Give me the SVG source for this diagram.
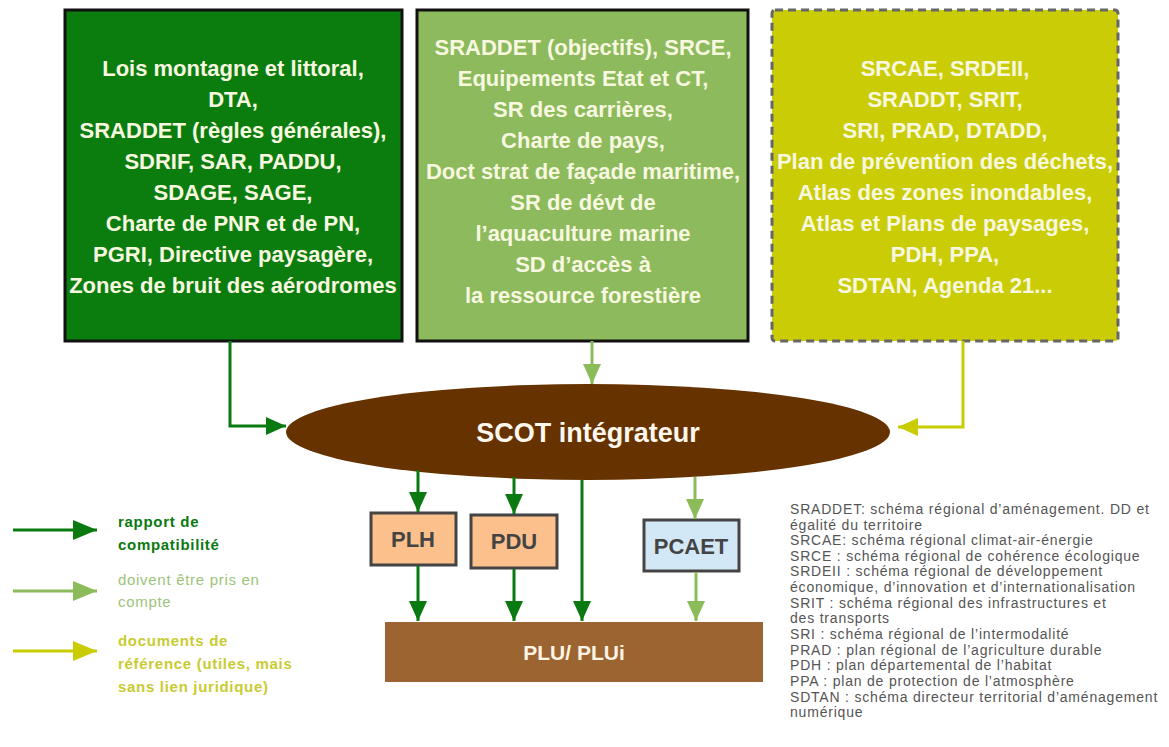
<svg xmlns="http://www.w3.org/2000/svg" width="1169" height="747" viewBox="0 0 1169 747">
<style>
.bt{font-family:"Liberation Sans",Arial,sans-serif;font-weight:bold;font-size:22px;fill:#f8f8e0;text-anchor:middle}
.sm{font-family:"Liberation Sans",Arial,sans-serif;font-weight:bold;font-size:22px;fill:#444;text-anchor:middle}
.gl{font-family:"Liberation Sans",Arial,sans-serif;font-size:14px;letter-spacing:0.8px;fill:#555}
.lg{font-family:"Liberation Sans",Arial,sans-serif;font-size:15px;letter-spacing:0.7px}
.dg{stroke:#0a7a10;stroke-width:3;fill:none}
.lgc{stroke:#8cbc5a;stroke-width:3;fill:none}
.yc{stroke:#c8cc00;stroke-width:3;fill:none}
</style>
<defs>
<marker id="aDG" markerUnits="userSpaceOnUse" markerWidth="20" markerHeight="18" refX="20" refY="9" orient="auto"><path d="M0,0 L20,9 L0,18 z" fill="#0a7a10"/></marker>
<marker id="aLG" markerUnits="userSpaceOnUse" markerWidth="20" markerHeight="18" refX="20" refY="9" orient="auto"><path d="M0,0 L20,9 L0,18 z" fill="#8cbc5a"/></marker>
<marker id="aY" markerUnits="userSpaceOnUse" markerWidth="20" markerHeight="18" refX="20" refY="9" orient="auto"><path d="M0,0 L20,9 L0,18 z" fill="#c8cc00"/></marker>
<marker id="bDG" markerUnits="userSpaceOnUse" markerWidth="24" markerHeight="20" refX="24" refY="10" orient="auto"><path d="M0,0 L24,10 L0,20 z" fill="#0a7a10"/></marker>
<marker id="bLG" markerUnits="userSpaceOnUse" markerWidth="24" markerHeight="20" refX="24" refY="10" orient="auto"><path d="M0,0 L24,10 L0,20 z" fill="#8cbc5a"/></marker>
<marker id="bY" markerUnits="userSpaceOnUse" markerWidth="24" markerHeight="20" refX="24" refY="10" orient="auto"><path d="M0,0 L24,10 L0,20 z" fill="#c8cc00"/></marker>
</defs>
<rect width="1169" height="747" fill="#ffffff"/>

<g id="box-compat">
<rect x="65" y="10" width="337" height="331" fill="#0b7d0e" stroke="#111" stroke-width="3"/>
<text class="bt" x="233" y="76">Lois montagne et littoral,</text>
<text class="bt" x="233" y="107">DTA,</text>
<text class="bt" x="233" y="138">SRADDET (règles générales),</text>
<text class="bt" x="233" y="169">SDRIF, SAR, PADDU,</text>
<text class="bt" x="233" y="200">SDAGE, SAGE,</text>
<text class="bt" x="233" y="231">Charte de PNR et de PN,</text>
<text class="bt" x="233" y="262">PGRI, Directive paysagère,</text>
<text class="bt" x="233" y="293">Zones de bruit des aérodromes</text>
</g>

<g id="box-prise">
<rect x="417" y="10" width="331" height="331" fill="#8cba5c" stroke="#111" stroke-width="3"/>
<text class="bt" x="583" y="55">SRADDET (objectifs), SRCE,</text>
<text class="bt" x="583" y="86">Equipements Etat et CT,</text>
<text class="bt" x="583" y="117">SR des carrières,</text>
<text class="bt" x="583" y="148">Charte de pays,</text>
<text class="bt" x="583" y="179">Doct strat de façade maritime,</text>
<text class="bt" x="583" y="210">SR de dévt de</text>
<text class="bt" x="583" y="241">l’aquaculture marine</text>
<text class="bt" x="583" y="272">SD d’accès à</text>
<text class="bt" x="583" y="303">la ressource forestière</text>
</g>

<g id="box-reference">
<rect x="772" y="10" width="346" height="331" rx="3" fill="#cacc06" stroke="#666" stroke-width="3" stroke-dasharray="8,5"/>
<text class="bt" x="945" y="76">SRCAE, SRDEII,</text>
<text class="bt" x="945" y="107">SRADDT, SRIT,</text>
<text class="bt" x="945" y="138">SRI, PRAD, DTADD,</text>
<text class="bt" x="945" y="169">Plan de prévention des déchets,</text>
<text class="bt" x="945" y="200">Atlas des zones inondables,</text>
<text class="bt" x="945" y="231">Atlas et Plans de paysages,</text>
<text class="bt" x="945" y="262">PDH,  PPA,</text>
<text class="bt" x="945" y="293">SDTAN, Agenda 21...</text>
</g>

<g id="scot">
<ellipse cx="588" cy="432" rx="302" ry="48" fill="#663300"/>
<text x="588" y="442" font-family="'Liberation Sans',Arial,sans-serif" font-weight="bold" font-size="27" fill="#fff8ee" text-anchor="middle">SCOT intégrateur</text>
</g>

<g id="plh">
<rect x="371" y="513" width="85" height="52" fill="#fbc08c" stroke="#444" stroke-width="3"/>
<text class="sm" x="413" y="547">PLH</text>
</g>
<g id="pdu">
<rect x="471" y="515" width="86" height="53" fill="#fbc08c" stroke="#444" stroke-width="3"/>
<text class="sm" x="514" y="549">PDU</text>
</g>
<g id="pcaet">
<rect x="644" y="520" width="95" height="51" fill="#d2e8f6" stroke="#444" stroke-width="3"/>
<text class="sm" x="691" y="554">PCAET</text>
</g>
<g id="plu">
<rect x="385" y="622" width="378" height="60" fill="#9c6430"/>
<text x="574" y="660" font-family="'Liberation Sans',Arial,sans-serif" font-weight="bold" font-size="21" fill="#fff4e6" text-anchor="middle">PLU/ PLUi</text>
</g>

<g id="connectors">
<path class="dg" d="M230,341 V426 H286" marker-end="url(#aDG)"/>
<path class="lgc" d="M592,341 V384" marker-end="url(#aLG)"/>
<path class="yc" d="M963,341 V427 H898" marker-end="url(#aY)"/>
<path class="dg" d="M418,470 V512" marker-end="url(#aDG)"/>
<path class="dg" d="M514,477 V514" marker-end="url(#aDG)"/>
<path class="dg" d="M582,480 V621" marker-end="url(#aDG)"/>
<path class="lgc" d="M695,477 V519" marker-end="url(#aLG)"/>
<path class="dg" d="M418,566 V621" marker-end="url(#aDG)"/>
<path class="dg" d="M514,569 V621" marker-end="url(#aDG)"/>
<path class="lgc" d="M696,572 V621" marker-end="url(#aLG)"/>
</g>

<g id="legend">
<path class="dg" d="M13,530 H97" marker-end="url(#bDG)"/>
<path class="lgc" d="M13,591 H97" marker-end="url(#bLG)"/>
<path class="yc" d="M13,651 H97" marker-end="url(#bY)"/>
<text class="lg" x="118" y="527" fill="#0a7a10" font-weight="bold">rapport de</text>
<text class="lg" x="118" y="550" fill="#0a7a10" font-weight="bold">compatibilité</text>
<text class="lg" x="118" y="585" fill="#9cc47a">doivent être pris en</text>
<text class="lg" x="118" y="607" fill="#9cc47a">compte</text>
<text class="lg" x="118" y="646" fill="#c8cc30" font-weight="bold">documents de</text>
<text class="lg" x="118" y="669" fill="#c8cc30" font-weight="bold">référence (utiles, mais</text>
<text class="lg" x="118" y="692" fill="#c8cc30" font-weight="bold">sans lien juridique)</text>
</g>

<g id="glossary">
<text class="gl" x="790" y="514">SRADDET: schéma régional d’aménagement. DD et</text>
<text class="gl" x="790" y="530">égalité du territoire</text>
<text class="gl" x="790" y="545">SRCAE: schéma régional climat-air-énergie</text>
<text class="gl" x="790" y="561">SRCE : schéma régional de cohérence écologique</text>
<text class="gl" x="790" y="576">SRDEII : schéma régional de développement</text>
<text class="gl" x="790" y="592">économique, d’innovation et d’internationalisation</text>
<text class="gl" x="790" y="608">SRIT : schéma régional des infrastructures et</text>
<text class="gl" x="790" y="623">des transports</text>
<text class="gl" x="790" y="639">SRI : schéma régional de l’intermodalité</text>
<text class="gl" x="790" y="655">PRAD : plan régional de l’agriculture durable</text>
<text class="gl" x="790" y="670">PDH : plan départemental de l’habitat</text>
<text class="gl" x="790" y="686">PPA : plan de protection de l’atmosphère</text>
<text class="gl" x="790" y="702">SDTAN : schéma directeur territorial d’aménagement</text>
<text class="gl" x="790" y="717">numérique</text>
</g>
</svg>
